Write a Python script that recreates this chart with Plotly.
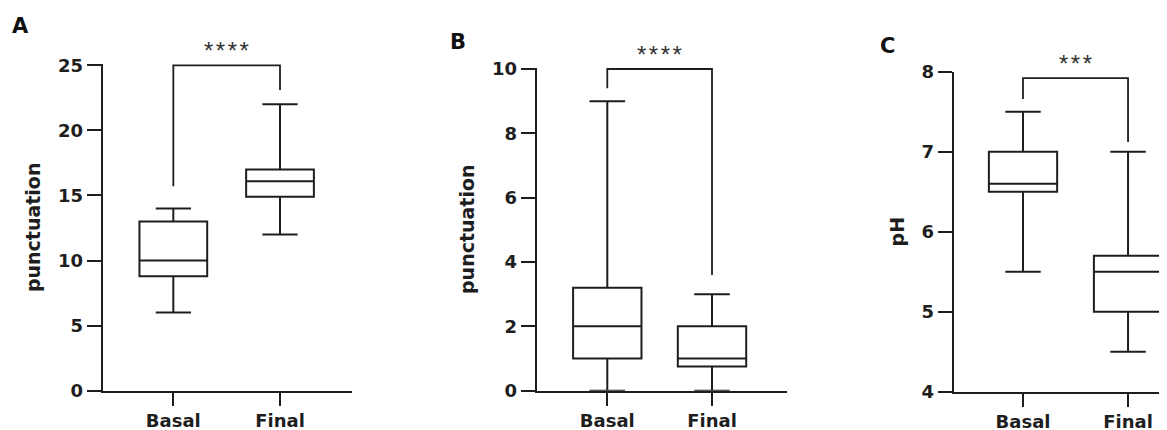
import plotly.graph_objects as go

W, H = 1167, 430

groups = ["Basal", "Final"]

# Panel A (punctuation)
a_min = [6, 12]
a_q1 = [8.8, 14.9]
a_med = [10, 16.1]
a_q3 = [13, 17]
a_max = [14, 22]
a_bracket = [15.7, 25, 25, 23.1]
a_sig = "****"
a_ticks = [0, 5, 10, 15, 20, 25]

# Panel B (punctuation)
b_min = [0, 0]
b_q1 = [1.0, 0.75]
b_med = [2, 1]
b_q3 = [3.2, 2]
b_max = [9, 3]
b_bracket = [9.4, 10, 10, 3.6]
b_sig = "****"
b_ticks = [0, 2, 4, 6, 8, 10]

# Panel C (pH)
c_min = [5.5, 4.5]
c_q1 = [6.5, 5.0]
c_med = [6.6, 5.5]
c_q3 = [7.0, 5.7]
c_max = [7.5, 7.0]
c_bracket = [7.66, 7.92, 7.92, 7.12]
c_sig = "***"
c_ticks = [4, 5, 6, 7, 8]

panel_letters = ["A", "B", "C"]
y_titles = ["punctuation", "punctuation", "pH"]

INK = "#1e1e1e"
FONT = "DejaVu Sans"
OFF = 8  # page margin offset of the figure in the browser

fig = go.Figure()

def px_x(p):
    return (p - OFF) / W

def px_y(p):
    return 1 - (p - OFF) / H

panels = [
    dict(mn=a_min, q1=a_q1, med=a_med, q3=a_q3, mx=a_max, br=a_bracket, sig=a_sig,
         ticks=a_ticks, yr=[0, 25.1], xd=[px_x(102.7), px_x(351.7)],
         yd=[px_y(390.7), px_y(64.0)], xr=[-0.662, 1.672], bw=0.635),
    dict(mn=b_min, q1=b_q1, med=b_med, q3=b_q3, mx=b_max, br=b_bracket, sig=b_sig,
         ticks=b_ticks, yr=[0, 10.04], xd=[px_x(536.7), px_x(787)],
         yd=[px_y(390.7), px_y(67.7)], xr=[-0.674, 1.716], bw=0.653),
    dict(mn=c_min, q1=c_q1, med=c_med, q3=c_q3, mx=c_max, br=c_bracket, sig=c_sig,
         ticks=c_ticks, yr=[4, 8], xd=[px_x(953.7), px_x(1167)],
         yd=[px_y(391.7), px_y(71.7)], xr=[-0.66, 1.371], bw=0.65),
]

letter_pos = [(20, 26), (458, 42), (887, 46)]

annotations = []
for i, p in enumerate(panels):
    n = "" if i == 0 else str(i + 1)
    xa, ya = "x" + n, "y" + n
    fig.add_trace(go.Box(
        x=groups, q1=p["q1"], median=p["med"], q3=p["q3"],
        lowerfence=p["mn"], upperfence=p["mx"],
        width=p["bw"], whiskerwidth=0.52,
        fillcolor="white", line=dict(color=INK, width=2),
        boxpoints=False, showlegend=False, xaxis=xa, yaxis=ya,
    ))
    fig.add_trace(go.Scatter(
        x=[groups[0], groups[0], groups[1], groups[1]], y=p["br"],
        mode="lines", line=dict(color=INK, width=1.8),
        showlegend=False, hoverinfo="skip", xaxis=xa, yaxis=ya,
    ))
    annotations.append(dict(
        x=0.5, y=p["br"][1], xref=xa, yref=ya,
        text='<span style="letter-spacing:2.5px">' + p["sig"] + '</span>',
        showarrow=False, yanchor="bottom", yshift=-1, xshift=1,
        font=dict(family="Liberation Sans", size=24, color="#333333"),
    ))
    lx, ly = letter_pos[i]
    annotations.append(dict(
        x=px_x(lx), y=px_y(ly), xref="paper", yref="paper", text=panel_letters[i],
        showarrow=False, xanchor="center", yanchor="middle",
        font=dict(family=FONT, size=21, color="#111111", weight="bold"),
    ))
    axis_common = dict(showline=True, linecolor=INK, linewidth=2, ticks="outside",
                       tickcolor=INK, tickwidth=2, showgrid=False, zeroline=False,
                       automargin=False,
                       tickfont=dict(family=FONT, size=18, color=INK, weight="bold"))
    fig.update_layout(**{
        ("xaxis" + n): dict(domain=p["xd"], range=p["xr"], anchor=ya,
                            type="category", categoryarray=groups, ticklen=13,
                            **axis_common),
        ("yaxis" + n): dict(domain=p["yd"], range=p["yr"], anchor=xa,
                            tickvals=p["ticks"], ticklen=14,
                            title=dict(text=y_titles[i], standoff=12,
                                       font=dict(family=FONT, size=19, color=INK, weight="bold")),
                            **axis_common),
    })

fig.update_layout(
    template="none",
    width=W, height=H, margin=dict(l=0, r=0, t=0, b=0, autoexpand=False),
    paper_bgcolor="white", plot_bgcolor="white",
    annotations=annotations, showlegend=False,
)

fig.write_html("out.html")
